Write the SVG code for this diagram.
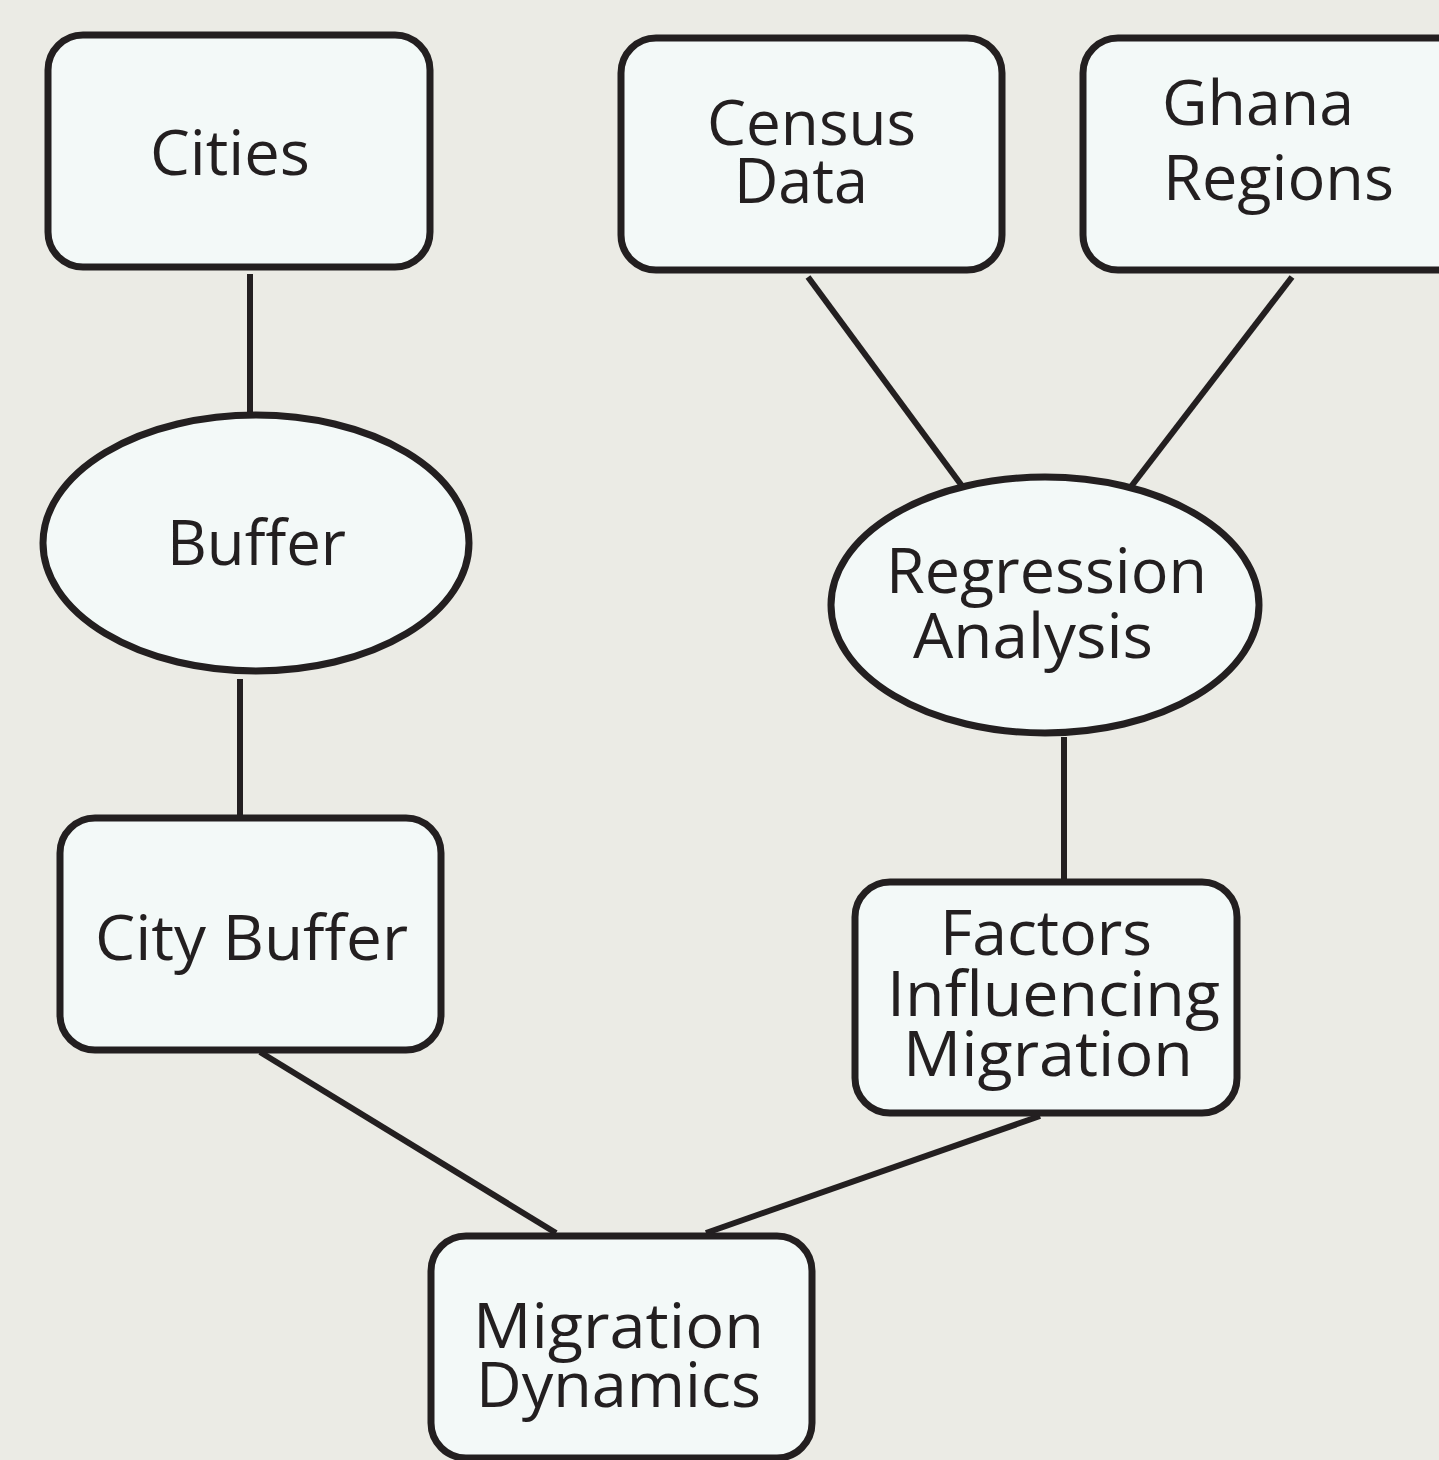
<svg xmlns="http://www.w3.org/2000/svg" width="1439" height="1460" viewBox="0 0 1439 1460">
<style>
.n{fill:#f3f9f8;stroke:#231f20;stroke-width:7}
.t{font-family:"Open Sans","Noto Sans",sans-serif;font-size:62px;fill:#231f20}
.c line{stroke:#231f20;stroke-width:6;stroke-linecap:butt}
</style>
<rect width="1439" height="1460" fill="#ebebe5"/>
<g class="c" id="connectors">
<line x1="250" y1="274" x2="250" y2="415"/>
<line x1="240" y1="679" x2="240" y2="818"/>
<line x1="808" y1="277" x2="965" y2="490"/>
<line x1="1292" y1="277" x2="1130" y2="488"/>
<line x1="1064" y1="737" x2="1064" y2="882"/>
<line x1="260" y1="1052" x2="556" y2="1233"/>
<line x1="1040" y1="1116" x2="706" y2="1233"/>
</g>
<g id="cities">
<rect class="n" x="48" y="35" width="382" height="232" rx="35"/>
<text class="t" x="150" y="175" textLength="160" lengthAdjust="spacingAndGlyphs">Cities</text>
</g>
<g id="census">
<rect class="n" x="621" y="38" width="381" height="232" rx="35"/>
<text class="t" x="707" y="145" textLength="209" lengthAdjust="spacingAndGlyphs">Census</text>
<text class="t" x="734" y="203" textLength="134" lengthAdjust="spacingAndGlyphs">Data</text>
</g>
<g id="ghana">
<rect class="n" x="1083" y="38" width="400" height="232" rx="35"/>
<text class="t" x="1162" y="125" textLength="192" lengthAdjust="spacingAndGlyphs">Ghana</text>
<text class="t" x="1163" y="200" textLength="231" lengthAdjust="spacingAndGlyphs">Regions</text>
</g>
<g id="buffer">
<ellipse class="n" cx="256" cy="543" rx="213" ry="128"/>
<text class="t" x="167" y="565" textLength="179" lengthAdjust="spacingAndGlyphs">Buffer</text>
</g>
<g id="regression">
<ellipse class="n" cx="1045" cy="605" rx="214" ry="128"/>
<text class="t" x="886" y="593" textLength="321" lengthAdjust="spacingAndGlyphs">Regression</text>
<text class="t" x="913" y="658" textLength="240" lengthAdjust="spacingAndGlyphs">Analysis</text>
</g>
<g id="citybuffer">
<rect class="n" x="60" y="818" width="381" height="232" rx="35"/>
<text class="t" x="95" y="960" textLength="313" lengthAdjust="spacingAndGlyphs">City Buffer</text>
</g>
<g id="factors">
<rect class="n" x="855" y="882" width="382" height="231" rx="35"/>
<text class="t" x="940" y="955" textLength="212" lengthAdjust="spacingAndGlyphs">Factors</text>
<text class="t" x="887" y="1016" textLength="333" lengthAdjust="spacingAndGlyphs">Influencing</text>
<text class="t" x="903" y="1076" textLength="290" lengthAdjust="spacingAndGlyphs">Migration</text>
</g>
<g id="migration">
<rect class="n" x="431" y="1236" width="381" height="222" rx="35"/>
<text class="t" x="473" y="1348" textLength="291" lengthAdjust="spacingAndGlyphs">Migration</text>
<text class="t" x="476" y="1407" textLength="285" lengthAdjust="spacingAndGlyphs">Dynamics</text>
</g>
</svg>
